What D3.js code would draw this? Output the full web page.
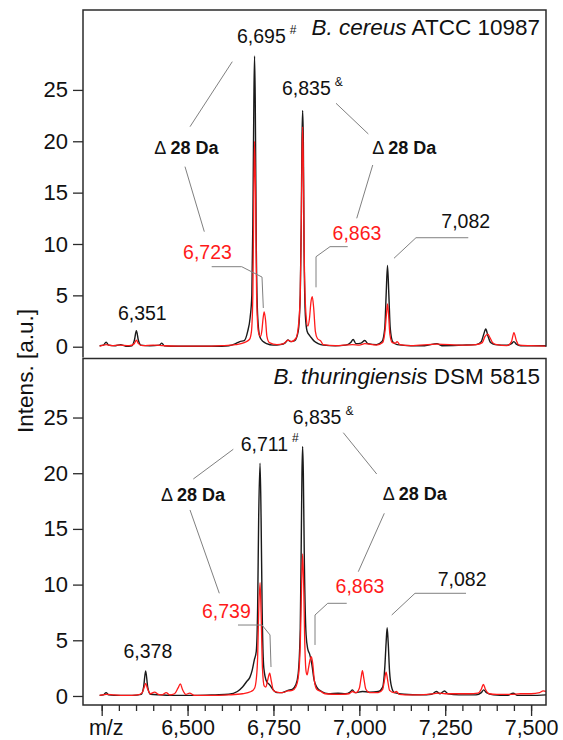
<!DOCTYPE html>
<html><head><meta charset="utf-8">
<script src="https://cdn.jsdelivr.net/npm/d3@7"></script>
<style>
html,body{margin:0;padding:0;background:#fff;}
svg text{font-family:"Liberation Sans",Arial,sans-serif;}
</style></head>
<body><svg id="c" width="563" height="740"></svg>
<script>
// ---------------- DATA ----------------
const panelTitles = [
  {italic: "B. cereus", rest: " ATCC 10987"},
  {italic: "B. thuringiensis", rest: " DSM 5815"}
];
const yTickValues = [0, 5, 10, 15, 20, 25];
const xMajorTicks = [6250, 6500, 6750, 7000, 7250, 7500];
const xMinorTicks = d3.range(6250, 7550, 50);
const xFirstLabel = "m/z";

// B. cereus ATCC 10987 — black spectrum [m/z, intensity]
const cereusBlack = [[6244,0.1],[6255,0.15],[6263,0.45],[6270,0.15],[6290,0.1],[6305,0.2],[6320,0.05],[6338,0.1],[6345,0.6],[6351,1.55],[6357,0.6],[6364,0.15],[6390,0.1],[6418,0.15],[6425,0.35],[6432,0.1],[6470,0.05],[6520,0.05],[6580,0.05],[6620,0.1],[6640,0.3],[6652,0.5],[6665,0.6],[6675,1.5],[6682,2.8],[6687,5],[6690,12],[6693,24],[6695,28.3],[6697,24],[6700,10],[6704,3],[6710,1.0],[6720,0.5],[6730,0.3],[6750,0.15],[6770,0.2],[6785,0.4],[6792,0.65],[6800,0.5],[6812,0.6],[6822,1.5],[6828,5],[6831,12],[6833,20],[6835,23],[6837,20],[6839,10],[6843,3],[6848,1.5],[6855,1.1],[6862,0.8],[6870,0.5],[6880,0.3],[6895,0.15],[6930,0.1],[6960,0.15],[6975,0.4],[6982,0.7],[6990,0.3],[7005,0.35],[7016,0.6],[7025,0.3],[7050,0.2],[7066,0.5],[7074,1.8],[7078,5],[7082,7.9],[7086,5],[7090,1.8],[7097,0.5],[7110,0.2],[7150,0.1],[7190,0.1],[7226,0.3],[7240,0.1],[7300,0.15],[7340,0.2],[7355,0.5],[7362,1.2],[7368,1.72],[7374,1.1],[7382,0.4],[7395,0.2],[7430,0.15],[7443,0.3],[7450,0.5],[7457,0.25],[7470,0.1],[7510,0.1],[7544,0.1]];
// B. cereus ATCC 10987 — red spectrum
const cereusRed = [[6244,0.05],[6263,0.2],[6280,0.1],[6300,0.15],[6330,0.1],[6345,0.3],[6351,0.65],[6357,0.3],[6370,0.1],[6400,0.15],[6430,0.1],[6480,0.05],[6540,0.05],[6600,0.1],[6640,0.2],[6665,0.4],[6680,0.7],[6686,1.5],[6690,5],[6693,15],[6695,20],[6698,15],[6701,5],[6706,1.5],[6712,1.0],[6716,1.5],[6720,2.8],[6723,3.4],[6727,2.6],[6731,1.0],[6738,0.4],[6760,0.2],[6780,0.3],[6792,0.65],[6802,0.5],[6815,0.8],[6822,1.8],[6828,5],[6831,12],[6833,18],[6835,21.4],[6837,18],[6840,8],[6845,3],[6850,2.0],[6855,2.8],[6859,4.3],[6863,4.87],[6867,3.8],[6872,1.5],[6878,0.8],[6888,0.55],[6895,0.2],[6930,0.1],[6980,0.2],[7000,0.15],[7016,0.3],[7050,0.15],[7068,0.4],[7075,1.6],[7079,3.2],[7082,4.16],[7085,3.2],[7089,1.2],[7096,0.4],[7105,0.35],[7110,0.5],[7118,0.2],[7150,0.1],[7226,0.25],[7300,0.15],[7340,0.2],[7358,0.4],[7366,1.0],[7374,1.23],[7380,0.9],[7388,0.4],[7400,0.2],[7430,0.1],[7443,0.5],[7450,1.37],[7457,0.6],[7465,0.15],[7500,0.1],[7544,0.05]];
// B. thuringiensis DSM 5815 — black spectrum
const thurBlack = [[6244,0.05],[6255,0.1],[6263,0.3],[6270,0.1],[6300,0.05],[6340,0.05],[6365,0.15],[6372,0.8],[6378,2.25],[6384,0.8],[6392,0.15],[6420,0.1],[6460,0.05],[6520,0.05],[6580,0.1],[6620,0.15],[6645,0.4],[6660,0.8],[6672,1.3],[6681,1.65],[6688,2.3],[6694,3.2],[6700,4],[6704,8],[6707,16],[6711,20.9],[6714,16],[6717,8],[6722,2.5],[6730,1.3],[6739,1.0],[6748,0.6],[6760,0.3],[6775,0.3],[6792,0.5],[6805,0.6],[6815,1.0],[6822,2.0],[6828,6],[6831,14],[6833,20],[6835,22.4],[6837,20],[6840,12],[6845,5.5],[6850,4.2],[6855,3.8],[6862,2.8],[6868,1.5],[6876,0.8],[6890,0.4],[6910,0.2],[6938,0.25],[6960,0.2],[6973,0.35],[6980,0.55],[6987,0.3],[7009,0.4],[7030,0.35],[7055,0.4],[7068,0.8],[7074,2.5],[7078,4.8],[7081,6.13],[7084,4.8],[7088,2.2],[7094,0.8],[7102,0.3],[7130,0.15],[7180,0.1],[7210,0.15],[7224,0.4],[7235,0.2],[7248,0.45],[7258,0.2],[7290,0.1],[7340,0.1],[7355,0.3],[7362,0.55],[7370,0.3],[7390,0.1],[7430,0.05],[7448,0.25],[7460,0.05],[7500,0.05],[7544,0.1]];
// B. thuringiensis DSM 5815 — red spectrum
const thurRed = [[6244,0.05],[6265,0.15],[6285,0.1],[6320,0.05],[6355,0.1],[6368,0.3],[6374,0.8],[6378,1.14],[6383,0.7],[6392,0.2],[6404,0.35],[6415,0.15],[6425,0.1],[6438,0.3],[6448,0.1],[6462,0.2],[6472,0.7],[6479,1.08],[6485,0.6],[6495,0.15],[6506,0.25],[6520,0.05],[6560,0.05],[6620,0.1],[6660,0.2],[6685,0.4],[6695,0.7],[6700,1.5],[6704,3.5],[6707,7.5],[6711,10.17],[6714,7.5],[6718,2.5],[6723,0.9],[6728,0.8],[6733,1.4],[6739,2.04],[6744,1.3],[6750,0.5],[6760,0.35],[6775,0.3],[6792,0.45],[6805,0.5],[6815,0.8],[6822,1.6],[6828,4.5],[6832,10],[6835,12.75],[6838,10],[6841,5],[6845,2.2],[6848,1.9],[6852,2.5],[6857,3.3],[6860,3.53],[6864,3.0],[6869,1.4],[6876,0.6],[6888,0.4],[6900,0.2],[6940,0.15],[6970,0.2],[6980,0.4],[6990,0.3],[7000,0.7],[7005,1.6],[7009,2.27],[7013,1.6],[7019,0.6],[7030,0.3],[7055,0.3],[7068,0.6],[7073,1.4],[7078,2.13],[7082,1.5],[7088,0.5],[7100,0.3],[7108,0.4],[7116,0.15],[7150,0.1],[7200,0.15],[7230,0.25],[7250,0.2],[7280,0.2],[7320,0.2],[7345,0.25],[7355,0.6],[7361,1.05],[7367,0.6],[7378,0.2],[7400,0.15],[7440,0.15],[7470,0.2],[7500,0.2],[7525,0.3],[7535,0.45],[7544,0.4]];

// Peak annotations: text, anchor point [m/z, intensity], colour, superscript
const cereusLabels = [
  {t:"6,695", at:[6643.9,29.6], a:"start", c:"black", sup:"#"},
  {t:"6,835", at:[6774.9,24.5], a:"start", c:"black", sup:"&"},
  {t:"6,723", at:[6558,8.51], a:"middle", c:"red"},
  {t:"6,863", at:[6993.2,10.39], a:"middle", c:"red"},
  {t:"7,082", at:[7309.7,11.53], a:"middle", c:"black"},
  {t:"6,351", at:[6368.2,2.6], a:"middle", c:"black"},
  {t:"28 Da", delta:true, at:[6496.6,18.73], a:"middle", c:"black"},
  {t:"28 Da", delta:true, at:[7130.6,18.73], a:"middle", c:"black"}
];
const cereusLeaders = [
  [[6630.2,27.75],[6507.1,21.42]],
  [[6492.5,17.53],[6548.7,11.2]],
  [[6570.2,7.79],[6657.6,7.79],[6716.7,6.78],[6720.5,3.77]],
  [[6932.1,23.70],[7026.2,20.71]],
  [[7039.0,17.69],[6992.4,12.50]],
  [[6966.2,9.74],[6914.6,9.74],[6873.9,8.76],[6873.9,5.78]],
  [[7317.2,10.61],[7164.9,10.61],[7100.9,8.61]]
];
const thurLabels = [
  {t:"6,711", at:[6654.7,22.02], a:"start", c:"black", sup:"#"},
  {t:"6,835", at:[6806.0,24.39], a:"start", c:"black", sup:"&"},
  {t:"6,739", at:[6612.9,7.03], a:"middle", c:"red"},
  {t:"6,863", at:[7002,9.22], a:"middle", c:"red"},
  {t:"7,082", at:[7299.4,9.87], a:"middle", c:"black"},
  {t:"6,378", at:[6384.4,3.44], a:"middle", c:"black"},
  {t:"28 Da", delta:true, at:[6515.8,17.53], a:"middle", c:"black"},
  {t:"28 Da", delta:true, at:[7161.1,17.59], a:"middle", c:"black"}
];
const thurLeaders = [
  [[6633.1,22.15],[6516.7,19.48]],
  [[6507.1,16.70],[6592.4,9.22]],
  [[6646.8,6.37],[6716.7,6.37],[6740.0,5.48],[6742.9,2.60]],
  [[6953.3,23.64],[7050.6,19.93]],
  [[7072.7,16.40],[6997.0,11.16]],
  [[6963.3,8.32],[6908.0,8.32],[6871.0,7.27],[6871.0,4.58]],
  [[7310.6,9.22],[7162.1,9.22],[7094.3,7.27]]
];

// ---------------- LAYOUT ----------------
const svg = d3.select("#c");
const L = 83, R = 546;
const panels = [
  {top:10, bottom:357.5, domain:[-1.05,32.78], black:cereusBlack, red:cereusRed, labels:cereusLabels, leaders:cereusLeaders, title:panelTitles[0]},
  {top:358.5, bottom:705, domain:[-0.81,30.3], black:thurBlack, red:thurRed, labels:thurLabels, leaders:thurLeaders, title:panelTitles[1]}
];
const x = d3.scaleLinear().domain([6195.6, 7543.4]).range([L, R]);
const BLACK = "#1a1a1a", RED = "#ff1a1a", FRAME = "#2b2b2b", LEAD = "#808080";

panels.forEach((p, i) => {
  const y = d3.scaleLinear().domain(p.domain).range([p.bottom, p.top]);
  const g = svg.append("g");
  const clipId = "clip" + i;
  svg.append("clipPath").attr("id", clipId).append("rect")
    .attr("x", L).attr("y", p.top).attr("width", R - L).attr("height", p.bottom - p.top);

  // y axis
  const ya = g.append("g").attr("transform", `translate(${L},0)`)
    .call(d3.axisLeft(y).tickValues(yTickValues).tickSize(10).tickPadding(5));
  ya.select(".domain").remove();
  ya.selectAll(".tick line").attr("stroke", FRAME).attr("stroke-width", 1.3);
  ya.selectAll(".tick text").attr("font-size", 22).attr("fill", "#111")
    .attr("font-family", '"Liberation Sans",Arial,sans-serif');

  // spectra
  const line = d3.line().x(d => x(d[0])).y(d => y(d[1])).curve(d3.curveMonotoneX);
  const sg = g.append("g").attr("clip-path", `url(#${clipId})`);
  sg.append("path").datum(p.black).attr("d", line).attr("fill", "none")
    .attr("stroke", BLACK).attr("stroke-width", 1.4).attr("stroke-linejoin", "round");
  sg.append("path").datum(p.red).attr("d", line).attr("fill", "none")
    .attr("stroke", RED).attr("stroke-width", 1.3).attr("stroke-linejoin", "round");

  // leaders
  const lline = d3.line().x(d => x(d[0])).y(d => y(d[1]));
  p.leaders.forEach(pts => {
    g.append("path").attr("d", lline(pts)).attr("fill", "none")
      .attr("stroke", LEAD).attr("stroke-width", 1);
  });

  // labels
  p.labels.forEach(lb => {
    const t = g.append("text").attr("x", x(lb.at[0])).attr("y", y(lb.at[1]))
      .attr("text-anchor", lb.a).attr("fill", lb.c === "red" ? "#ff1a1a" : "#111");
    if (lb.delta) {
      t.attr("font-size", 18);
      t.append("tspan").text("\u0394 ");
      t.append("tspan").attr("font-weight", "bold").text(lb.t);
    } else {
      t.attr("font-size", 19.5).text(lb.t);
      if (lb.sup) {
        t.append("tspan").attr("font-size", 12).attr("dx", 4).attr("dy", -9).text(lb.sup);
      }
    }
  });

  // title
  const tt = g.append("text").attr("x", R - 6).attr("y", p.top + 25)
    .attr("text-anchor", "end").attr("font-size", 22.5).attr("fill", "#111");
  tt.append("tspan").attr("font-style", "italic").text(p.title.italic);
  tt.append("tspan").text(p.title.rest);

  // frame
  if (i === 0) {
    g.append("path").attr("d", `M${L},${p.bottom}V${p.top}H${R}V${y(0)}`)
      .attr("fill", "none").attr("stroke", FRAME).attr("stroke-width", 1.5);
  } else {
    g.append("rect").attr("x", L).attr("y", p.top).attr("width", R - L).attr("height", p.bottom - p.top)
      .attr("fill", "none").attr("stroke", FRAME).attr("stroke-width", 1.5);
  }

  // x axis on bottom panel
  if (i === 1) {
    const xm = g.append("g").attr("transform", `translate(0,${p.bottom})`)
      .call(d3.axisBottom(x).tickValues(xMinorTicks).tickSize(6).tickFormat(""));
    xm.select(".domain").remove();
    xm.selectAll(".tick line").attr("stroke", FRAME).attr("stroke-width", 1.3);
    const fmt = d3.format(",");
    const xa = g.append("g").attr("transform", `translate(0,${p.bottom})`)
      .call(d3.axisBottom(x).tickValues(xMajorTicks).tickSize(11).tickPadding(4)
        .tickFormat((d, k) => k === 0 ? xFirstLabel : fmt(d)));
    xa.select(".domain").remove();
    xa.selectAll(".tick line").attr("stroke", FRAME).attr("stroke-width", 1.3);
    xa.selectAll(".tick text").attr("font-size", 21.5).attr("fill", "#111")
      .attr("font-family", '"Liberation Sans",Arial,sans-serif');
    xa.selectAll(".tick text").filter((d, k) => k === 0).attr("dx", 4);
  }
});

// y axis label
svg.append("text").attr("transform", "translate(33,371) rotate(-90)")
  .attr("text-anchor", "middle").attr("font-size", 22.5).attr("fill", "#111")
  .text("Intens. [a.u.]");
</script></body></html>
